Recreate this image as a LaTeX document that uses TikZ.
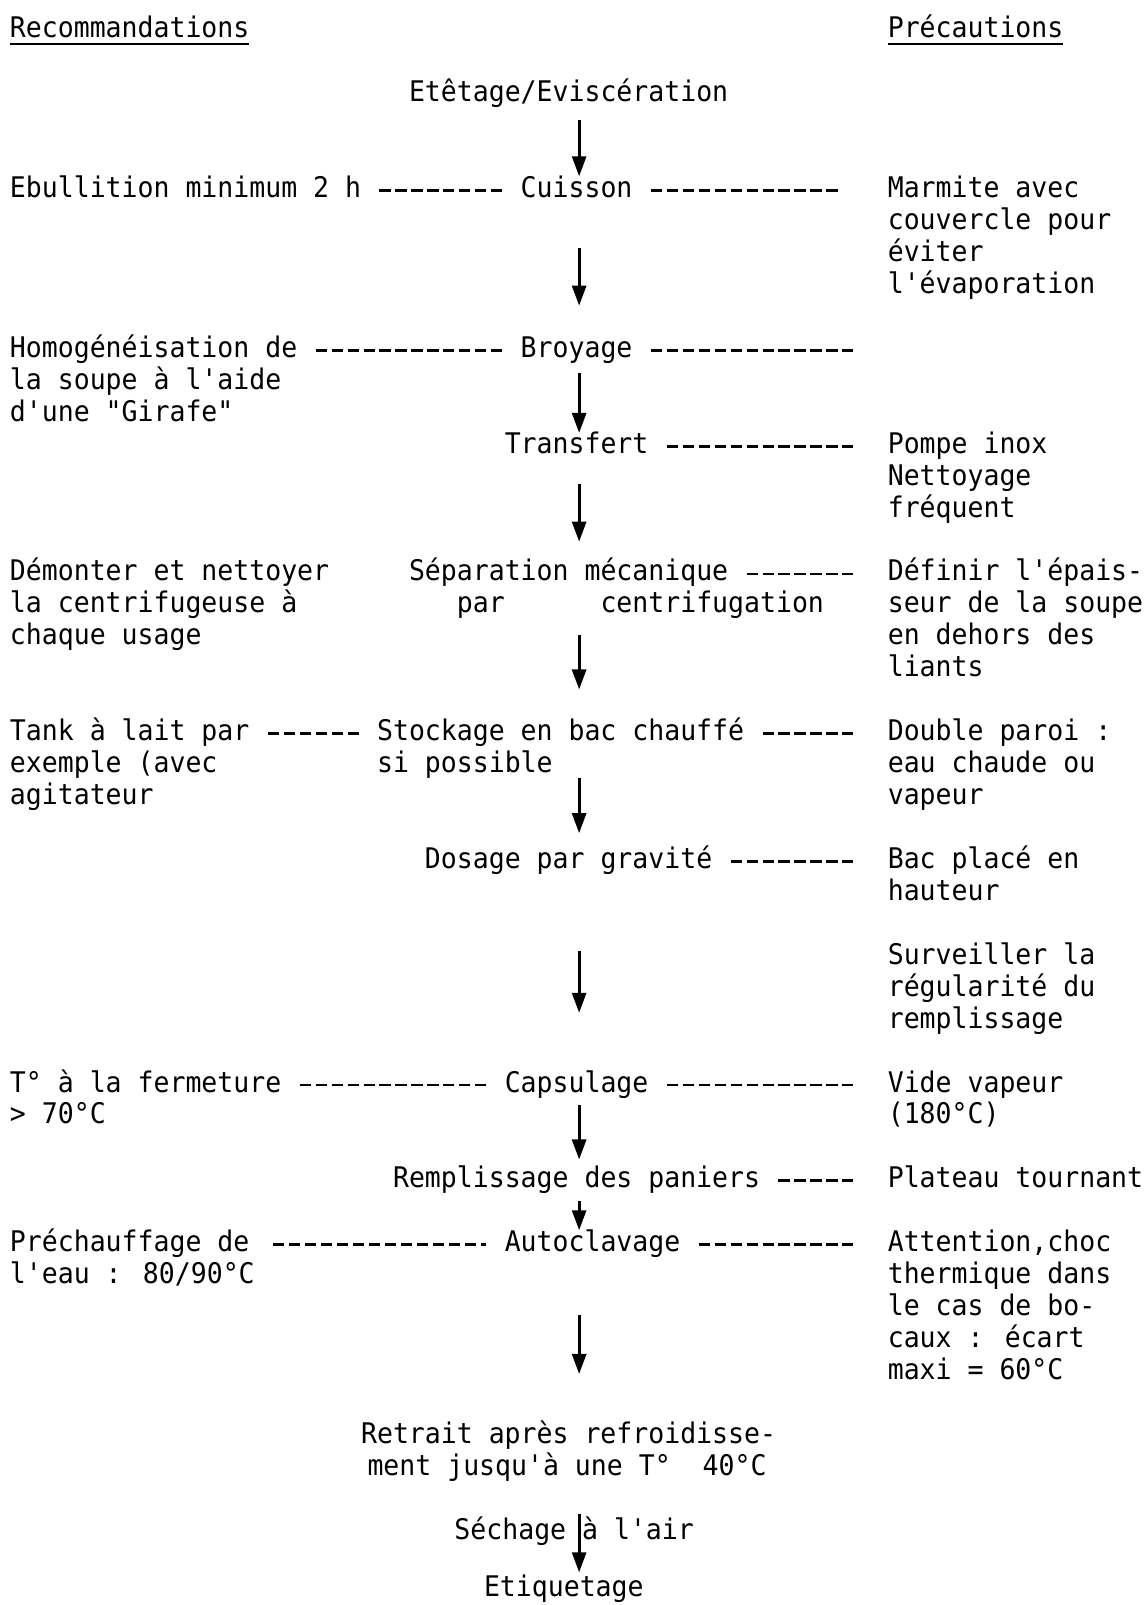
\documentclass[tikz,border=0pt]{standalone}
\usepackage{fontspec}
\newfontfamily\tw[FakeStretch=0.9334]{DejaVu Sans Mono}
\usetikzlibrary{calc,arrows.meta}
\newcommand\mlines[1]{\vtop{\let\\\cr\baselineskip=15.97pt\lineskip=0pt\lineskiplimit=-100pt\halign{##\hfil\cr#1\crcr}}}
\begin{document}
\begin{tikzpicture}[x=7.98pt,y=-15.97pt,
  txt/.style={inner sep=0pt,outer sep=0pt,anchor=base west,font=\tw\fontsize{14.2pt}{15.97pt}\selectfont},
  flow/.style={line width=1.4pt,-{Triangle[length=10pt,width=7pt]}},
  dl/.style={line width=1.4pt,dash pattern=on 5.59pt off 2.39pt,shorten <=9.18pt,shorten >=#1},
  dl/.default=17.16pt,
  uline/.style={line width=1.1pt}]
\fill[white] (-5pt,19pt) rectangle (567pt,-783.5pt);
\path[use as bounding box] (-5pt,19pt) rectangle (567pt,-783.5pt);
% headers
\node[txt] (rec) at (0,0) {Recommandations};
\node[txt] (prec) at (55,0) {Précautions};
\draw[uline] ([yshift=-3.2pt]rec.base west) -- ([yshift=-3.2pt]rec.base east);
\draw[uline] ([yshift=-3.2pt]prec.base west) -- ([yshift=-3.2pt]prec.base east);
% rows
\node[txt] (ete) at (25,2) {Etêtage/Eviscération};

\node[txt] (cuisL) at (0,5) {Ebullition minimum 2 h};
\node[txt] (cuis) at (32,5) {Cuisson};
\node[txt] (cuisR) at (55,5) {\mlines{Marmite avec\\couvercle pour\\éviter\\l'évaporation}};

\node[txt] (broyL) at (0,10) {\mlines{Homogénéisation de\\la soupe à l'aide\\d'une "Girafe"}};
\node[txt] (broy) at (32,10) {Broyage};
\coordinate (broyR) at (55,10);

\node[txt] (transf) at (31,13) {Transfert};
\node[txt] (transfR) at (55,13) {\mlines{Pompe inox\\Nettoyage\\fréquent}};

\node[txt] (sepL) at (0,17) {\mlines{Démonter et nettoyer\\la centrifugeuse à\\chaque usage}};
\node[txt] (sep) at (25,17) {Séparation mécanique};
\node[txt] (sepb) at (28,18) {par\ \ \ \ \ \ centrifugation};
\node[txt] (sepR) at (55,17) {\mlines{Définir l'épais-\\seur de la soupe\\en dehors des\\liants}};

\node[txt] (stockL) at (0,22) {\mlines{Tank à lait par\\exemple (avec\\agitateur}};
\node[txt] (stock) at (23,22) {\mlines{Stockage en bac chauffé\\si possible}};
\node[txt] (stockR) at (55,22) {\mlines{Double paroi :\\eau chaude ou\\vapeur}};

\node[txt] (dos) at (26,26) {Dosage par gravité};
\node[txt] (dosR) at (55,26) {\mlines{Bac placé en\\hauteur}};

\node[txt] (surv) at (55,29) {\mlines{Surveiller la\\régularité du\\remplissage}};

\node[txt] (capsL) at (0,33) {\mlines{T° à la fermeture\\> 70°C}};
\node[txt] (caps) at (31,33) {Capsulage};
\node[txt] (capsR) at (55,33) {\mlines{Vide vapeur\\(180°C)}};

\node[txt] (rempl) at (24,36) {Remplissage des paniers};
\node[txt] (remplR) at (55,36) {Plateau tournant};

\node[txt] (autoL) at (0,38) {\mlines{Préchauffage de\\l'eau : 80/90°C}};
\node[txt] (auto) at (31,38) {Autoclavage};
\node[txt] (autoR) at (55,38) {\mlines{Attention,choc\\thermique dans\\le cas de bo-\\caux : écart\\maxi = 60°C}};

\node[txt] (ret) at (22,44) {\mlines{Retrait après refroidisse-\\\hskip3.2pt ment jusqu'à une T°\ \ 40°C}};
\node[txt] (sech) at (27.85,47) {Séchage à l'air};
\node[txt] (etiq) at (29.7,48.78) {Etiquetage};

% dashed links
\draw[dl=9.18pt] ([yshift=3.5pt]cuisL.base east) -- ([yshift=3.5pt]cuis.base west);
\draw[dl=25.14pt] ([yshift=3.5pt]cuis.base east) -- ([yshift=3.5pt]cuisR.base west);
\draw[dl=9.18pt] ([yshift=3.5pt]broyL.base east) -- ([yshift=3.5pt]broy.base west);
\draw[dl] ([yshift=3.5pt]broy.base east) -- ([yshift=3.5pt]broyR);
\draw[dl] ([yshift=3.5pt]transf.base east) -- ([yshift=3.5pt]transfR.base west);
\draw[dl] ([yshift=3.5pt]sep.base east) -- ([yshift=3.5pt]sepR.base west);
\draw[dl=9.18pt] ([yshift=3.5pt]stockL.base east) -- ([yshift=3.5pt]stock.base west);
\draw[dl] ([yshift=3.5pt]stock.base east) -- ([yshift=3.5pt]stockR.base west);
\draw[dl] ([yshift=3.5pt]dos.base east) -- ([yshift=3.5pt]dosR.base west);
\draw[dl=9.18pt] ([yshift=3.5pt]capsL.base east) -- ([yshift=3.5pt]caps.base west);
\draw[dl] ([yshift=3.5pt]caps.base east) -- ([yshift=3.5pt]capsR.base west);
\draw[dl] ([yshift=3.5pt]rempl.base east) -- ([yshift=3.5pt]remplR.base west);
\draw[dl=9.18pt] ([yshift=3.5pt]autoL.base east) -- ([yshift=3.5pt]auto.base west);
\draw[dl] ([yshift=3.5pt]auto.base east) -- ([yshift=3.5pt]autoR.base west);

% flow arrows
\coordinate (ax) at (35.66,0);
\draw[flow] ($(ete.base -| ax)+(0,0.565)$) -- ($(cuis.base -| ax)+(0,-0.669)$);
\draw[flow] ($(cuis.base -| ax)+(0,1.582)$) -- ($(broy.base -| ax)+(0,-1.620)$);
\draw[flow] ($(broy.base -| ax)+(0,0.499)$) -- ($(transf.base -| ax)+(0,-0.637)$);
\draw[flow] ($(transf.base -| ax)+(0,0.973)$) -- ($(sep.base -| ax)+(0,-1.231)$);
\draw[flow] ($(sepb.base -| ax)+(0,0.694)$) -- ($(stock.base -| ax)+(0,-1.604)$);
\draw[flow] ($(stock.base -| ax)+(0,1.157)$) -- ($(dos.base -| ax)+(0,-1.105)$);
\draw[flow] ($(dos.base -| ax)+(0,2.590)$) -- ($(caps.base -| ax)+(0,-2.480)$);
\draw[flow] ($(caps.base -| ax)+(0,0.408)$) -- ($(rempl.base -| ax)+(0,-0.889)$);
\draw[flow] ($(rempl.base -| ax)+(0,0.399)$) -- ($(auto.base -| ax)+(0,-0.672)$);
\draw[flow] ($(auto.base -| ax)+(0,1.994)$) -- ($(ret.base -| ax)+(0,-2.173)$);
\draw[flow] ($(ret.base -| ax)+(0,2.217)$) -- ($(etiq.base -| ax)+(0,-0.742)$);
\end{tikzpicture}
\end{document}
